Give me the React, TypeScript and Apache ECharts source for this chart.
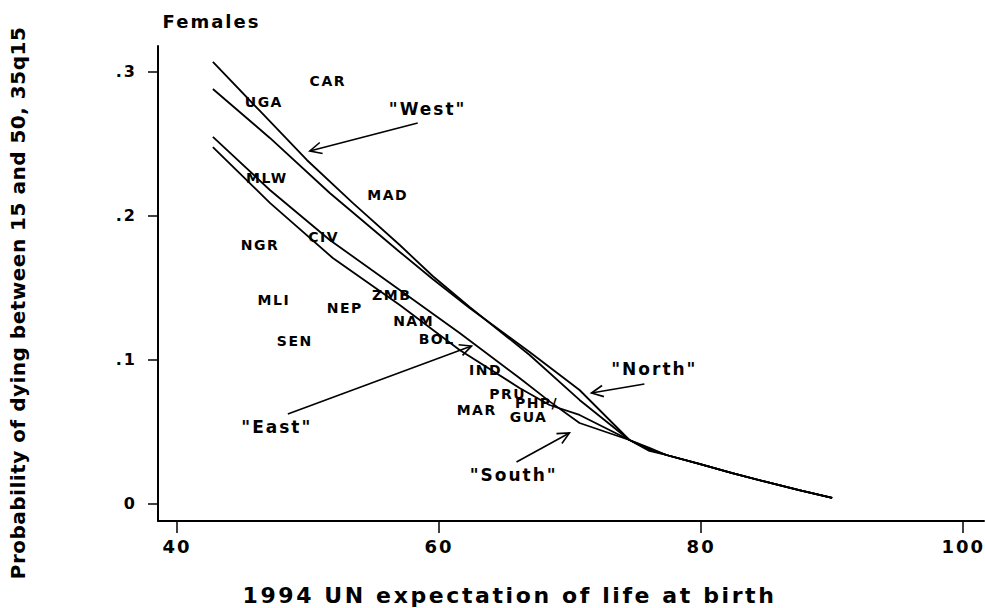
import React, { useEffect, useRef } from "react";
import * as echarts from "echarts";

// ---- data ----
const xTicks = [40, 60, 80, 100];
const yTicks = [0, 0.1, 0.2, 0.3];

const tail: [number, number][] = [
  [77.35, 0.034], [79.86, 0.0278], [82.38, 0.0215], [84.97, 0.0153], [87.48, 0.0097], [90.0, 0.0042],
];
const west: [number, number][] = [
  [42.74, 0.3067], [46.33, 0.2727], [49.91, 0.2387], [53.41, 0.2089], [57.0, 0.1797], [59.51, 0.1582],
  [62.33, 0.1367], [66.91, 0.1034], [70.72, 0.0722], [74.53, 0.0444], [76.05, 0.0382],
];
const north: [number, number][] = [
  [42.74, 0.288], [47.09, 0.254], [51.66, 0.2158], [57.0, 0.1749], [59.51, 0.1561], [62.33, 0.136],
  [66.91, 0.1055], [70.72, 0.0791], [74.53, 0.0444], [76.05, 0.0389],
];
const east: [number, number][] = [
  [42.74, 0.2477], [47.09, 0.2089], [51.89, 0.1707], [57.0, 0.1381], [61.57, 0.1069], [66.14, 0.0805],
  [68.43, 0.0687], [70.72, 0.0618], [74.53, 0.0444], [76.05, 0.0375],
];
const south: [number, number][] = [
  [42.74, 0.2547], [47.09, 0.2179], [51.66, 0.1832], [57.0, 0.1485], [61.57, 0.1187], [66.14, 0.0874],
  [68.43, 0.0712], [70.72, 0.0562], [74.53, 0.0444], [76.05, 0.0368],
];

const countryCodes = ["CAR", "UGA", "MLW", "MAD", "CIV", "NGR", "MLI", "NEP", "ZMB", "NAM", "BOL", "SEN", "IND", "PRU", "MAR", "PHP/", "GUA"];
const countryAge = [51.51, 46.63, 46.86, 56.08, 51.2, 46.33, 47.39, 52.8, 56.39, 58.06, 59.82, 48.99, 63.55, 65.23, 62.87, 67.44, 66.83];
const countryQ = [0.2935, 0.279, 0.2262, 0.2144, 0.1853, 0.1797, 0.1416, 0.136, 0.145, 0.127, 0.1145, 0.1131, 0.093, 0.0763, 0.0652, 0.0701, 0.0604];

const annotationText = ['"West"', '"North"', '"East"', '"South"'];
const annotationAge = [59.13, 76.43, 47.62, 65.69];
const annotationQ = [0.2741, 0.0937, 0.0534, 0.0201];
const arrowTail: [number, number][] = [[58.37, 0.2644], [75.67, 0.0833], [48.46, 0.0625], [65.91, 0.0291]];
const arrowTip: [number, number][] = [[50.14, 0.245], [71.63, 0.077], [62.48, 0.1096], [69.95, 0.0493]];

const FONT = "DejaVu Sans";

function wings(t: number[], p: number[], len = 13, ang = 0.45) {
  const dx = t[0] - p[0];
  const dy = t[1] - p[1];
  const d = Math.hypot(dx, dy) || 1;
  const ux = dx / d;
  const uy = dy / d;
  const rot = (a: number) => [
    p[0] + len * (ux * Math.cos(a) - uy * Math.sin(a)),
    p[1] + len * (ux * Math.sin(a) + uy * Math.cos(a)),
  ];
  return [rot(ang), [p[0], p[1]], rot(-ang)];
}

export default function App() {
  const ref = useRef<HTMLDivElement>(null);
  useEffect(() => {
    if (!ref.current) return;
    const chart = echarts.init(ref.current, null, { renderer: "svg" });
    const lineSeries = (name: string, pts: [number, number][]) => ({
      name,
      type: "line",
      data: [...pts, ...tail],
      showSymbol: false,
      symbol: "none",
      smooth: false,
      silent: true,
      lineStyle: { color: "#000", width: 1.8 },
      z: 2,
    });
    const labelStyle = (size: number) => ({
      show: true,
      position: "inside",
      formatter: "{b}",
      color: "#000",
      opacity: 1,
      textBorderWidth: 0,
      textBorderColor: "transparent",
      fontFamily: FONT,
      fontWeight: "bold",
      fontSize: size,
    });
    const labelSeries = (names: string[], ages: number[], qs: number[], size: number) => ({
      type: "scatter",
      silent: true,
      symbol: "circle",
      symbolSize: 0.01,
      itemStyle: { color: "#000", opacity: 1 },
      label: labelStyle(size),
      data: names.map((c, i) => ({ name: c, value: [ages[i], qs[i]] })),
      z: 3,
    });
    chart.setOption({
      animation: false,
      backgroundColor: "#fff",
      grid: { left: 158, top: 46, right: 0, bottom: 87, containLabel: false },
      xAxis: {
        type: "value",
        min: 38.552,
        max: 101.585,
        splitLine: { show: false },
        axisLine: { show: true, onZero: false, lineStyle: { color: "#000", width: 2 } },
        axisTick: { show: true, customValues: xTicks, length: 12, lineStyle: { color: "#000", width: 1.5 } },
        axisLabel: {
          customValues: xTicks,
          margin: 16,
          color: "#000",
          fontFamily: FONT,
          fontWeight: "bold",
          fontSize: 18,
        },
      },
      yAxis: {
        type: "value",
        min: -0.0118,
        max: 0.3178,
        splitLine: { show: false },
        axisLine: { show: true, onZero: false, lineStyle: { color: "#000", width: 2 } },
        axisTick: { show: true, customValues: yTicks, length: 10, lineStyle: { color: "#000", width: 1.5 } },
        axisLabel: {
          customValues: yTicks,
          margin: 21,
          color: "#000",
          fontFamily: FONT,
          fontWeight: "bold",
          fontSize: 16,
          padding: [6, 0, 0, 0],
          formatter: (v: number) => (Math.abs(v) < 1e-9 ? "0" : "." + Math.round(v * 10)),
        },
      },
      series: [
        lineSeries("West", west),
        lineSeries("North", north),
        lineSeries("East", east),
        lineSeries("South", south),
        labelSeries(countryCodes, countryAge, countryQ, 14),
        labelSeries(annotationText, annotationAge, annotationQ, 17),
      ],
    });

    const arrows: any[] = [];
    arrowTail.forEach((t, i) => {
      const a = chart.convertToPixel({ gridIndex: 0 }, t) as number[];
      const b = chart.convertToPixel({ gridIndex: 0 }, arrowTip[i]) as number[];
      arrows.push({
        type: "line",
        silent: true,
        shape: { x1: a[0], y1: a[1], x2: b[0], y2: b[1] },
        style: { stroke: "#000", lineWidth: 1.6 },
      });
      arrows.push({
        type: "polyline",
        silent: true,
        shape: { points: wings(a, b) },
        style: { stroke: "#000", fill: "none", lineWidth: 1.6 },
      });
    });
    const titleStyle = (text: string, size: number) => ({
      text,
      fontSize: size,
      fontWeight: "bold",
      fontFamily: FONT,
      fill: "#000",
      align: "center",
      verticalAlign: "middle",
    });
    chart.setOption({
      graphic: {
        elements: [
          { type: "text", x: 211.5, y: 21.5, style: titleStyle("Females", 18) },
          { type: "text", x: 509.5, y: 595, style: titleStyle("1994 UN expectation of life at birth", 22) },
          {
            type: "text",
            x: 18,
            y: 303,
            rotation: Math.PI / 2,
            style: titleStyle("Probability of dying between 15 and 50, 35q15", 20),
          },
          ...arrows,
        ],
      },
    });
    return () => chart.dispose();
  }, []);
  return (
    <>
      <style>{`#cc text{letter-spacing:2px}#cc text[style*="20px"]{letter-spacing:0.5px}#cc text[style*="22px"]{letter-spacing:2.6px}#cc text[style*="14px"]{letter-spacing:1.5px}`}</style>
      <div
        id="cc"
        ref={ref}
        style={{ position: "absolute", left: 0, top: 0, width: 985, height: 608, background: "#fff" }}
      />
    </>
  );
}
